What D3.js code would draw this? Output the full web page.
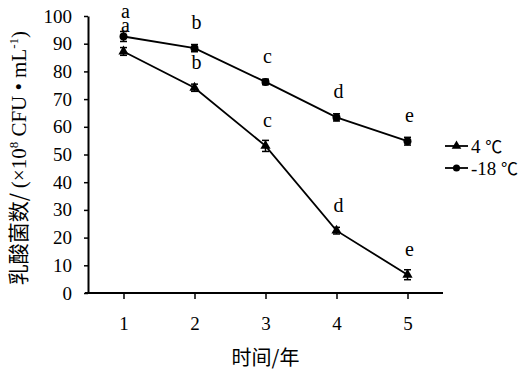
<!DOCTYPE html>
<html>
<head>
<meta charset="utf-8">
<script src="https://cdn.jsdelivr.net/npm/d3@7"></script>
<style>
  body { margin: 0; background: #fff; }
  text { font-family: "Liberation Serif", "Times New Roman", Times, "DejaVu Serif", "Noto Sans CJK SC", serif; fill: #000; }
  .cjk { font-family: "Noto Sans CJK SC", sans-serif; }
</style>
</head>
<body>
<div id="chart-area"></div>
<script>
// storage time (years) and lactic acid bacteria counts
const years = [1, 2, 3, 4, 5];
const seriesNames = ["4 ℃", "-18 ℃"];
const count4 = [87.2, 74.1, 53.1, 22.5, 6.6];
const err4 = [1.4, 1.3, 2.0, 1.2, 1.8];
const countMinus18 = [92.6, 88.4, 76.2, 63.4, 54.8];
const errMinus18 = [1.8, 1.3, 1.0, 1.3, 1.4];
const letters4 = ["a", "b", "c", "d", "e"];
const lettersMinus18 = ["a", "b", "c", "d", "e"];
const yTickValues = [0, 10, 20, 30, 40, 50, 60, 70, 80, 90, 100];

const svgWidth = 527, svgHeight = 373;
var margin = {left: 88, right: 84, top: 16, bottom: 80};
var chartWidth = svgWidth - margin.left - margin.right,
    chartHeight = svgHeight - margin.top - margin.bottom;

var svg = d3.select("#chart-area")
  .append("svg")
    .attr("width", svgWidth)
    .attr("height", svgHeight)
  .append("g")
    .attr("transform", "translate(" + margin.left + "," + margin.top + ")");

var x = d3.scaleLinear().domain([0.5, 5.5]).range([0, chartWidth]);
var y = d3.scaleLinear().domain([0, 100]).range([chartHeight, 0]);

// axes
var xAxis = svg.append("g")
  .attr("transform", "translate(0," + chartHeight + ")")
  .call(d3.axisBottom(x).tickValues(years).tickFormat(d3.format("d"))
    .tickSize(6).tickSizeOuter(0).tickPadding(18));
var yAxis = svg.append("g")
  .call(d3.axisLeft(y).tickValues(yTickValues)
    .tickSize(4).tickSizeOuter(0).tickPadding(12));

[xAxis, yAxis].forEach(function(a){
  a.attr("font-family", null);
  a.select(".domain").attr("stroke", "#000").attr("stroke-width", 2);
  a.selectAll(".tick line").attr("stroke", "#000").attr("stroke-width", 1.5);
  a.selectAll(".tick text").attr("font-size", "19px");
});
// x axis line sticks out a little to the left
xAxis.select(".domain").attr("d", "M-3,0H" + chartWidth);

// axis titles
svg.append("text")
  .attr("class", "cjk")
  .attr("x", chartWidth / 2)
  .attr("y", chartHeight + 72)
  .attr("text-anchor", "middle")
  .attr("font-size", "20px")
  .text("时间/年");

var yTitle = svg.append("text")
  .attr("transform", "translate(" + (26 - margin.left) + "," + (158 - margin.top) + ") rotate(-90)")
  .attr("text-anchor", "middle")
  .attr("font-size", "21px");
yTitle.append("tspan").attr("class", "cjk").text("乳酸菌数/ ");
yTitle.append("tspan").text("(×10");
yTitle.append("tspan").attr("font-size", "13px").attr("dy", -8).text("8");
yTitle.append("tspan").attr("dy", 8).text(" CFU • mL");
yTitle.append("tspan").attr("font-size", "13px").attr("dy", -8).text("-1");
yTitle.append("tspan").attr("dy", 8).text(")");

var series = [
  {name: seriesNames[0], values: count4, err: err4, letters: letters4, marker: d3.symbolTriangle},
  {name: seriesNames[1], values: countMinus18, err: errMinus18, letters: lettersMinus18, marker: d3.symbolCircle}
];

var line = d3.line()
  .x(function(d){ return x(d.year); })
  .y(function(d){ return y(d.value); });

series.forEach(function(s){
  var pts = years.map(function(yr, i){
    return {year: yr, value: s.values[i], err: s.err[i], letter: s.letters[i]};
  });

  svg.append("path")
    .datum(pts)
    .attr("fill", "none")
    .attr("stroke", "#000")
    .attr("stroke-width", 1.8)
    .attr("d", line);

  // error bars
  var eb = svg.selectAll(null).data(pts).enter().append("g");
  eb.append("line")
    .attr("x1", function(d){ return x(d.year); })
    .attr("x2", function(d){ return x(d.year); })
    .attr("y1", function(d){ return y(d.value + d.err); })
    .attr("y2", function(d){ return y(d.value - d.err); })
    .attr("stroke", "#000").attr("stroke-width", 1.5);
  [1, -1].forEach(function(sign){
    eb.append("line")
      .attr("x1", function(d){ return x(d.year) - 3.5; })
      .attr("x2", function(d){ return x(d.year) + 3.5; })
      .attr("y1", function(d){ return y(d.value + sign * d.err); })
      .attr("y2", function(d){ return y(d.value + sign * d.err); })
      .attr("stroke", "#000").attr("stroke-width", 1.5);
  });

  // markers
  svg.selectAll(null).data(pts).enter().append("path")
    .attr("d", d3.symbol().type(s.marker).size(s.marker === d3.symbolCircle ? 50 : 45))
    .attr("transform", function(d){ return "translate(" + x(d.year) + "," + y(d.value) + ")"; })
    .attr("fill", "#000");

  // significance letters
  svg.selectAll(null).data(pts).enter().append("text")
    .attr("x", function(d){ return x(d.year) + 2; })
    .attr("y", function(d){ return y(d.value) - 19; })
    .attr("text-anchor", "middle")
    .attr("font-size", "20px")
    .text(function(d){ return d.letter; });
});

// legend
var legend = svg.append("g")
  .attr("transform", "translate(" + (445 - margin.left) + "," + (146 - margin.top) + ")");
series.forEach(function(s, i){
  var g = legend.append("g").attr("transform", "translate(0," + (i * 22) + ")");
  g.append("line").attr("x1", 0).attr("x2", 23).attr("y1", 0).attr("y2", 0)
    .attr("stroke", "#000").attr("stroke-width", 1.8);
  g.append("path")
    .attr("d", d3.symbol().type(s.marker).size(40))
    .attr("transform", "translate(11.5,0)")
    .attr("fill", "#000");
  var t = g.append("text")
    .attr("x", 26)
    .attr("y", 7)
    .attr("font-size", "19px");
  var parts = s.name.split(" ");
  t.append("tspan").text(parts[0] + " ");
  t.append("tspan").attr("class", "cjk").attr("font-size", "17px").text(parts[1]);
});
</script>
</body>
</html>
